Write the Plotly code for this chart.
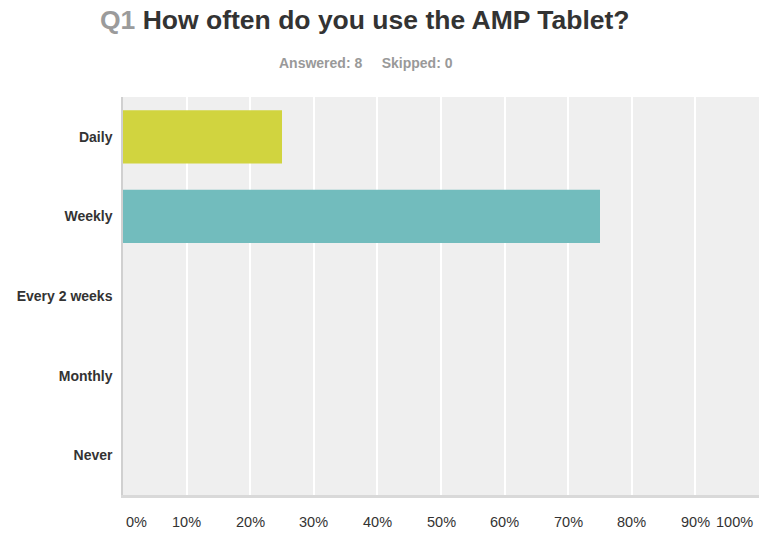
import plotly.graph_objects as go

# Survey answers for Q1
categories = ["Daily", "Weekly", "Every 2 weeks", "Monthly", "Never"]
percents = [25, 75, 0, 0, 0]
bar_colors = ["#d1d43f", "#72bcbd", "#e9a037", "#6f8fc7", "#c66"]

tick_values = [0, 10, 20, 30, 40, 50, 60, 70, 80, 90, 100]
tick_labels = [f"{v}%" for v in tick_values]

answered = 8
skipped = 0

FONT = "Liberation Sans, Arial, sans-serif"

fig = go.Figure()
fig.add_trace(go.Bar(
    x=percents,
    y=categories,
    orientation="h",
    marker=dict(color=bar_colors, line=dict(width=0)),
    width=0.67,
    hoverinfo="x+y",
))

# x-axis tick labels: end labels pulled inward so they stay inside the frame
annotations = []
for v, t in zip(tick_values, tick_labels):
    if v == tick_values[0]:
        anchor, shift = "left", 1
    elif v == tick_values[-1]:
        anchor, shift = "right", -4
    else:
        anchor, shift = "center", 0
    annotations.append(dict(
        x=v, y=0, xref="x", yref="paper", yanchor="top", yshift=-17,
        xanchor=anchor, xshift=shift, text=t, showarrow=False,
        font=dict(family=FONT, size=14.5, color="#333"),
    ))

# Heading and response counts (positioned in pixels above the plot area)
plot_h = 533 - 97 - 38
annotations.append(dict(
    x=0.38, y=1 + (97 - 20) / plot_h, xref="paper", yref="paper",
    yanchor="middle", xanchor="center",
    text="<b><span style='color:#9b9b9b'>Q1</span> How often do you use the AMP Tablet?</b>",
    showarrow=False,
    font=dict(family=FONT, size=26.5, color="#333"),
))
annotations.append(dict(
    x=0.382, y=1 + (97 - 63) / plot_h, xref="paper", yref="paper",
    yanchor="middle", xanchor="center",
    text=f"<b>Answered: {answered}&nbsp;&nbsp;&nbsp;&nbsp;&nbsp;Skipped: {skipped}</b>",
    showarrow=False,
    font=dict(family=FONT, size=14, color="#999"),
))

fig.update_layout(
    width=763, height=533,
    margin=dict(l=123, r=4, t=97, b=38),
    paper_bgcolor="white",
    plot_bgcolor="#efefef",
    showlegend=False,
    bargap=0.33,
    annotations=annotations,
    xaxis=dict(
        range=[0, 100],
        tickvals=tick_values,
        showticklabels=False,
        showgrid=True, gridcolor="white", gridwidth=1.5,
        zeroline=False,
        showline=True, linecolor="#d9d9d9", linewidth=3,
        fixedrange=True,
    ),
    yaxis=dict(
        categoryorder="array",
        categoryarray=categories[::-1],
        autorange=False,
        range=[-0.5, len(categories) - 0.5],
        showgrid=False,
        zeroline=False,
        showline=True, linecolor="#d0d0d0", linewidth=1.5,
        ticks="outside", ticklen=6, tickcolor="rgba(0,0,0,0)",
        tickfont=dict(family=FONT, size=14, color="#333", weight="bold"),
        fixedrange=True,
    ),
)

fig.write_html("out.html")
